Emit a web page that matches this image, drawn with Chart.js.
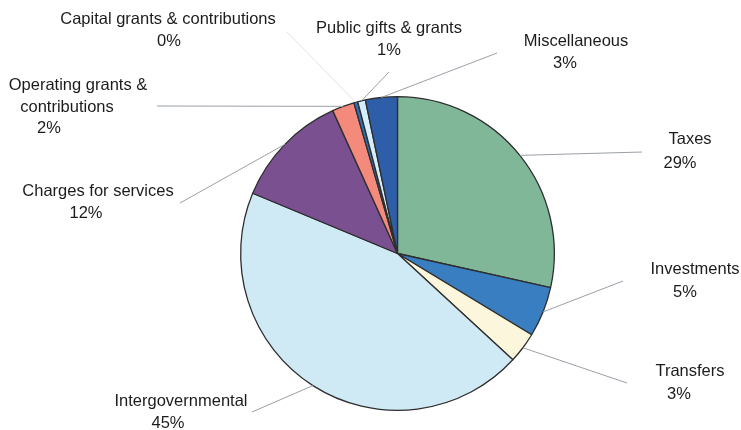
<!DOCTYPE html>
<html>
<head>
<meta charset="utf-8">
<script src="https://cdn.jsdelivr.net/npm/chart.js@4.4.0/dist/chart.umd.min.js"></script>
<style>
  html, body { margin: 0; padding: 0; background: #fff; }
  #wrap { width: 741px; height: 430px; }
</style>
</head>
<body>
<div id="wrap"><canvas id="pie" width="741" height="430"></canvas></div>
<script>
// --- Datos ---

const categories = [
  "Taxes", "Investments", "Transfers", "Intergovernmental",
  "Charges for services", "Operating grants & contributions",
  "Capital grants & contributions", "Public gifts & grants", "Miscellaneous",
];
const shares = [28.6, 5.2, 3.2, 44.6, 12.0, 2.3, 0.4, 0.8, 3.3];
const pctLabels = ["29%", "5%", "3%", "45%", "12%", "2%", "0%", "1%", "3%"];
const sliceColors = [
  "#80b798", "#3a7ec2", "#fcf7dc", "#cfe9f5",
  "#7a5090", "#f38a7c", "#2f70b4", "#d6eefa", "#2f5ea8",
];

// --- Posición de etiquetas (texto + fin de la línea guía) ---

const labelLayout = [
  { end: [642, 152], lines: [["Taxes", 690, 139], ["29%", 680, 163]] },
  { end: [623, 281], lines: [["Investments", 695, 269], ["5%", 685, 292]] },
  { end: [627, 383], lines: [["Transfers", 690, 371], ["3%", 679, 394]] },
  { end: [252, 412], lines: [["Intergovernmental", 181, 401], ["45%", 168, 423]] },
  { end: [180, 203], lines: [["Charges for services", 98, 191], ["12%", 86, 213]] },
  { end: [157, 106], lines: [["Operating grants &", 78, 85], ["contributions", 67, 107], ["2%", 49, 128]] },
  { end: [287, 32], lines: [["Capital grants & contributions", 168, 19], ["0%", 169, 41]], faint: true },
  { end: [389, 72], lines: [["Public gifts & grants", 389, 28], ["1%", 389, 50]] },
  { end: [497, 53], lines: [["Miscellaneous", 576, 41], ["3%", 565, 63]] },
];

// --- Plugin: líneas guía y textos ---

const outsideLabels = {
  id: "outsideLabels",
  afterDraw(chart) {
    const ctx = chart.ctx;
    const arcs = chart.getDatasetMeta(0).data;
    ctx.save();
    arcs.forEach((arc, i) => {
      const lay = labelLayout[i];
      const mid = (arc.startAngle + arc.endAngle) / 2;
      const sx = arc.x + Math.cos(mid) * arc.outerRadius;
      const sy = arc.y + Math.sin(mid) * arc.outerRadius;
      ctx.beginPath();
      ctx.moveTo(sx, sy);
      ctx.lineTo(lay.end[0], lay.end[1]);
      ctx.strokeStyle = lay.faint ? "#e2e2e2" : "#9aa0a6";
      ctx.lineWidth = 1;
      ctx.stroke();

      ctx.fillStyle = "#1c1c1c";
      ctx.font = "16.5px 'Liberation Sans', Arial, sans-serif";
      ctx.textAlign = "center";
      ctx.textBaseline = "middle";
      lay.lines.forEach(([t, x, y], j) => {
        ctx.fillText(j === lay.lines.length - 1 ? pctLabels[i] : t, x, y);
      });
    });
    ctx.restore();
  },
};

new Chart(document.getElementById("pie"), {
  type: "pie",
  data: {
    labels: categories,
    datasets: [{
      data: shares,
      backgroundColor: sliceColors,
      borderColor: "#2e2e2e",
      borderWidth: 1.3,
    }],
  },
  options: {
    responsive: false,
    animation: false,
    rotation: 0,
    layout: { padding: { top: 96, bottom: 19, left: 240, right: 186 } },
    plugins: { legend: { display: false }, tooltip: { enabled: false } },
  },
  plugins: [outsideLabels],
});
</script>
</body>
</html>
